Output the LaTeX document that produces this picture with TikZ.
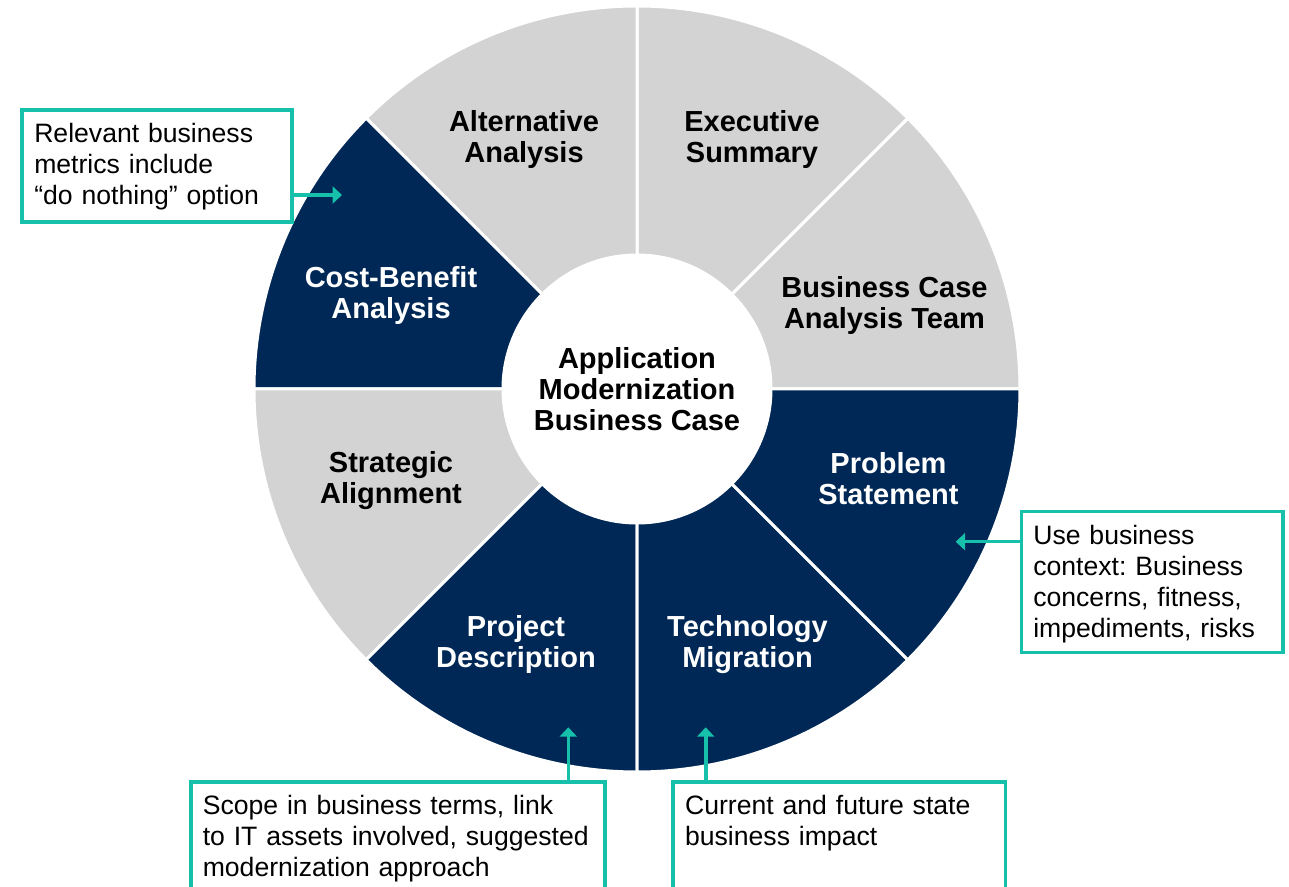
\documentclass[tikz,border=0pt]{standalone}
\usepackage{fontspec}
\setmainfont{Liberation Sans}
\usetikzlibrary{arrows.meta}
\definecolor{caseNavy}{RGB}{0,40,86}
\definecolor{caseGray}{RGB}{211,211,211}
\definecolor{caseTeal}{RGB}{22,192,170}

\begin{document}
\begin{tikzpicture}[
            x=0.5pt, y=0.5pt,
            seg label/.style={align=center, font=\bfseries\fontsize{14.5}{15.5}\selectfont},
            dark label/.style={seg label, text=white},
            note/.style={draw=caseTeal, line width=1.8pt, anchor=north west, align=left,
                inner xsep=6pt, inner ysep=6.4pt, text height=10pt,
                font=\fontsize{13.3}{15.5}\selectfont,
                execute at begin node={\frenchspacing\hyphenpenalty=10000\relax}},
            callout/.style={draw=caseTeal, line width=1.8pt, -{Triangle[width=8.5pt,length=4.7pt]}},
            ]
            \def\R{383}
            \useasboundingbox (-637,-498) rectangle (652,389);
            \clip (-637,-498) rectangle (652,389);

            \foreach \a/\col in {0/caseGray, 45/caseGray, 90/caseGray, 135/caseNavy,
                                 180/caseGray, 225/caseNavy, 270/caseNavy, 315/caseNavy}
                \filldraw[fill=\col, draw=white, line width=1.5pt]
                    (0,0) -- (\a:\R) arc[start angle=\a, delta angle=45, radius=\R] -- cycle;

            \node[circle, fill=white, minimum size=135.5pt, inner sep=0pt, seg label] (hub) at (0,0)
                {Application\\Modernization\\Business Case};

            \node[seg label] (alt) at (-113,249.5) {Alternative\\Analysis};
            \node[seg label] (exec) at (115,249.5) {Executive\\Summary};
            \node[seg label] (team) at (247.5,83.5) {Business Case\\Analysis Team};
            \node[dark label] (problem) at (251.5,-90) {Problem\\Statement};
            \node[dark label] (tech) at (110.5,-255.5) {Technology\\Migration};
            \node[dark label] (project) at (-121,-255.5) {Project\\Description};
            \node[seg label] (strategy) at (-246,-91.5) {Strategic\\Alignment};
            \node[dark label] (costben) at (-246,93.5) {Cost-Benefit\\Analysis};

            \node[note, text width=123pt, text depth=33.2pt] (metrics) at (-616.5,281)
                {Relevant business\\metrics include\\“do nothing” option};
            \node[note, text width=118.7pt, text depth=47.8pt] (context) at (382.5,-120.7)
                {Use business\\context: Business\\concerns, fitness,\\impediments, risks};
            \node[note, text width=195pt, text depth=40pt] (scope) at (-448,-391)
                {Scope in business terms, link\\to IT assets involved, suggested\\modernization approach};
            \node[note, text width=154.2pt, text depth=40pt] (impact) at (34.3,-391)
                {Current and future state\\business impact};

            \coordinate (m1) at (-295,194);
            \coordinate (c1) at (318.7,-152.7);
            \coordinate (s1) at (-68.7,-338.3);
            \coordinate (i1) at (68.7,-338.3);

            \draw[callout] (metrics.east |- m1) -- (m1);
            \draw[callout] (context.west |- c1) -- (c1);
            \draw[callout] (scope.north -| s1) -- (s1);
            \draw[callout] (impact.north -| i1) -- (i1);
        \end{tikzpicture}
\end{document}
